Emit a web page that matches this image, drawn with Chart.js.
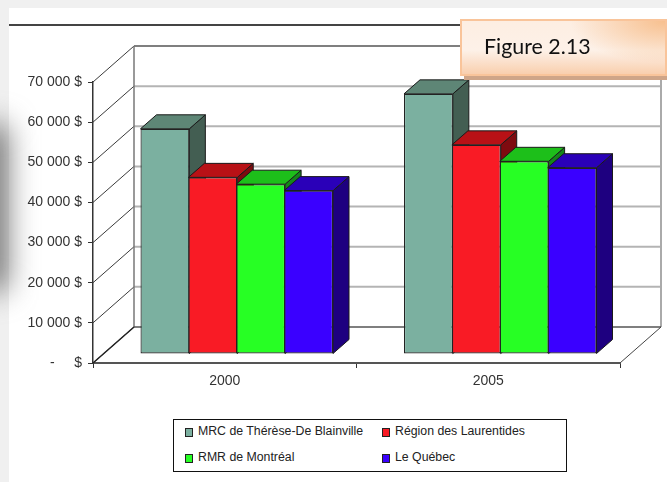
<!DOCTYPE html>
<html lang="fr">
<head>
<meta charset="UTF-8">
<title>Figure 2.13</title>
<script src="https://cdn.jsdelivr.net/npm/chart.js"></script>
<style>
  html, body { margin: 0; padding: 0; width: 667px; height: 482px; overflow: hidden; background: #f0f0f0; }
  #sheet { position: absolute; left: 9px; top: 8px; right: 0; bottom: 0; background: #fff; }
  #smudge { position: absolute; left: -26px; top: 125px; width: 32px; height: 165px; background: #666; filter: blur(15px); }
  #rule { position: absolute; left: 9px; top: 24px; width: 460px; height: 2px; background: #444; }
  #chart { position: absolute; left: 0; top: 0; }
  #figure {
    position: absolute; left: 460px; top: 19px; width: 203px; height: 53px;
    border: 2px solid #f9c49a;
    background:
      radial-gradient(ellipse 95px 42px at 100% 0, #f7c08f, rgba(247, 192, 143, 0)),
      linear-gradient(180deg, #fdeee2 0%, #fdf1e8 55%, #f9cfae 100%);
    box-shadow: 4px 4px 0 #cfa588;
    font: 21.4px Lato, sans-serif; color: #111; line-height: 50px; text-indent: 22px;
  }
  #legend {
    position: absolute; left: 173px; top: 419px; width: 392px; height: 51px;
    border: 1.5px solid #111; background: #fff;
    font: 12.3px "Liberation Sans", sans-serif; color: #222;
  }
  #legend span { position: absolute; white-space: nowrap; }
  #legend i { position: absolute; width: 6px; height: 7px; border: 1.5px solid #222; }
</style>
</head>
<body>
<div id="sheet"></div>
<div id="smudge"></div>
<div id="rule"></div>
<canvas id="chart" width="667" height="482"></canvas>
<div id="figure">Figure 2.13</div>
<div id="legend"></div>

<script>
var categories = ['2000', '2005'];
var seriesNames = ['MRC de Thérèse-De Blainville', 'Région des Laurentides', 'RMR de Montréal', 'Le Québec'];
var mrcValues = [56100, 64800];
var laurentidesValues = [44000, 52100];
var montrealValues = [42300, 48000];
var quebecValues = [40700, 46400];
var tickLabels = ['-     $', '10 000 $', '20 000 $', '30 000 $', '40 000 $', '50 000 $', '60 000 $', '70 000 $'];

var frontColors = ['#7bb0a0', '#f91b25', '#27ff24', '#3a00ff'];
var topColors = ['#5e8676', '#b81116', '#1dbf1a', '#2a00b8'];
var sideColors = ['#435e52', '#7e0b10', '#15861a', '#1e0080'];

// depth of the box the bars stand in, and of the bars themselves
var wallDx = 41, wallDy = -36;
var barDx = 12, barDy = -9;
var depthX = 16, depthY = -14;

function poly(ctx, pts, fill, stroke, width) {
  ctx.beginPath();
  ctx.moveTo(pts[0][0], pts[0][1]);
  for (var i = 1; i < pts.length; i++) ctx.lineTo(pts[i][0], pts[i][1]);
  ctx.closePath();
  if (fill) { ctx.fillStyle = fill; ctx.fill(); }
  if (stroke) { ctx.strokeStyle = stroke; ctx.lineWidth = width; ctx.stroke(); }
}

function line(ctx, x1, y1, x2, y2, color, width) {
  ctx.beginPath();
  ctx.moveTo(x1, y1);
  ctx.lineTo(x2, y2);
  ctx.strokeStyle = color;
  ctx.lineWidth = width;
  ctx.stroke();
}

function drawWalls(chart) {
  var ctx = chart.ctx, y = chart.scales.y, a = chart.chartArea;
  var x0 = a.left + wallDx, x1 = a.right + wallDx;
  y.ticks.forEach(function (t) {
    var py = y.getPixelForValue(t.value);
    if (t.value > 0 && t.value < 70000) line(ctx, x0, py + wallDy, x1, py + wallDy, '#b4b4b4', 2);
    line(ctx, a.left, py, x0, py + wallDy, '#3a3a3a', 1);
  });
  var top = y.getPixelForValue(70000) + wallDy, bottom = y.getPixelForValue(0) + wallDy;
  line(ctx, x0, top, x1, top, '#555', 1.5);
  line(ctx, x0, top, x0, bottom, '#777', 1.5);
  line(ctx, x1, top, x1, bottom, '#aaa', 2);
  line(ctx, x0, bottom, x1, bottom, '#555', 1.5);
  line(ctx, a.left, a.bottom, x0, bottom, '#222', 1.5);
  line(ctx, a.right, a.bottom, x1, bottom, '#444', 1);
}

// paints walls, then the series left to right: Chart.js would go the other way,
// and a bar's front has to cover the side face of its left neighbour
var boxPlugin = {
  id: 'box',
  beforeDatasetsDraw: function (chart) {
    var ctx = chart.ctx;
    ctx.save();
    drawWalls(chart);
    ctx.translate(barDx, barDy);
    chart.getSortedVisibleDatasetMetas().forEach(function (meta) {
      var i = meta.index;
      meta.data.forEach(function (bar) {
        var l = bar.x - bar.width / 2, r = bar.x + bar.width / 2;
        poly(ctx, [[r, bar.y], [r + depthX, bar.y + depthY], [r + depthX, bar.base + depthY], [r, bar.base]], sideColors[i], '#1a1a1a', 1);
        poly(ctx, [[l, bar.y], [l + depthX, bar.y + depthY], [r + depthX, bar.y + depthY], [r, bar.y]], topColors[i], '#1a1a1a', 1);
      });
      meta.controller.draw();
    });
    ctx.restore();
    return false;
  }
};

var seriesValues = [mrcValues, laurentidesValues, montrealValues, quebecValues];
var datasets = seriesValues.map(function (vals, i) {
  return {
    label: seriesNames[i],
    data: vals,
    backgroundColor: frontColors[i],
    borderColor: '#222',
    borderWidth: 1.2,
    borderSkipped: false,
    categoryPercentage: 0.727,
    barPercentage: 1.02 // neighbours share one dark edge
  };
});

new Chart(document.getElementById('chart').getContext('2d'), {
  type: 'bar',
  data: { labels: categories, datasets: datasets },
  plugins: [boxPlugin],
  options: {
    responsive: false,
    animation: false,
    layout: { padding: { top: 82, right: 47, left: 0, bottom: 0 } },
    plugins: { legend: { display: false }, tooltip: { enabled: false } },
    scales: {
      x: {
        afterFit: function (s) { s.height = 119; },
        grid: { drawOnChartArea: false, color: '#333', tickLength: 5 },
        border: { color: '#555', width: 2 },
        ticks: { color: '#333', font: { family: 'Liberation Sans', size: 14 }, padding: 5, maxRotation: 0 }
      },
      y: {
        min: 0,
        max: 70000,
        afterFit: function (s) { s.width = 93; },
        grid: { drawOnChartArea: false, color: '#333', tickLength: 5 },
        border: { color: '#333', width: 1.5 },
        ticks: {
          stepSize: 10000,
          color: '#333',
          font: { family: 'Liberation Sans', size: 14 },
          padding: 6,
          callback: function (v, i) { return tickLabels[i]; }
        }
      }
    }
  }
});

// two rows, two columns in a boxed key under the axis
var legend = document.getElementById('legend');
var slots = [[11, 8], [208, 8], [11, 34], [208, 34]];
seriesNames.forEach(function (name, i) {
  var swatch = document.createElement('i');
  swatch.style.left = slots[i][0] + 'px';
  swatch.style.top = slots[i][1] + 'px';
  swatch.style.background = frontColors[i];
  legend.appendChild(swatch);
  var text = document.createElement('span');
  text.textContent = name;
  text.style.left = (slots[i][0] + 13) + 'px';
  text.style.top = (slots[i][1] - 4) + 'px';
  legend.appendChild(text);
});
</script>
</body>
</html>
